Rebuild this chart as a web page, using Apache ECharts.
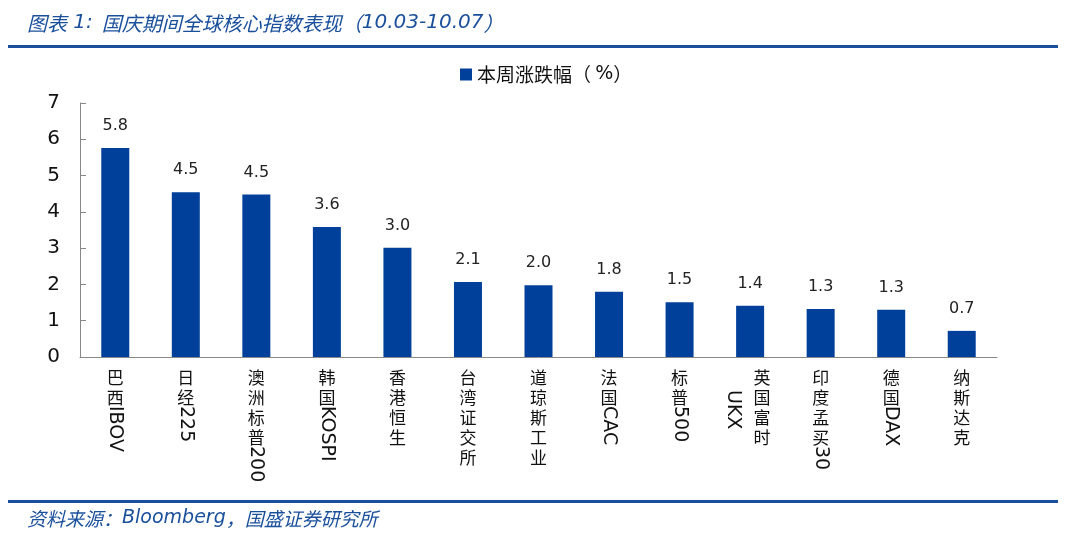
<!DOCTYPE html>
<html>
<head>
<meta charset="utf-8">
<script src="https://cdn.jsdelivr.net/npm/echarts@6/dist/echarts.min.js"></script>
<style>html,body{margin:0;padding:0;background:#fff;}#c{width:1080px;height:545px;}</style>
</head>
<body>
<div id="c"></div>
<script>
var categories = ['巴西IBOV','日经225','澳洲标普200','韩国KOSPI','香港恒生','台湾证交所','道琼斯工业','法国CAC','标普500','英国富时UKX','印度孟买30','德国DAX','纳斯达克'];
var cnParts = ['巴西','日经','澳洲标普','韩国','香港恒生','台湾证交所','道琼斯工业','法国','标普','英国富时','印度孟买','德国','纳斯达克'];
var latinParts = ['IBOV','225','200','KOSPI','','','','CAC','500','UKX','30','DAX',''];
var weeklyChange = [5.76, 4.54, 4.48, 3.58, 3.01, 2.07, 1.98, 1.80, 1.51, 1.41, 1.32, 1.30, 0.72];
var yTicks = [0, 1, 2, 3, 4, 5, 6, 7];

var blue = '#1a4f9c';
var barColor = '#00409a';
var chart = echarts.init(document.getElementById('c'));

function cnLabel(value) {
  var i = categories.indexOf(value);
  if (latinParts[i] === 'UKX') {
    return cnParts[i].split('').map(function (c) { return '{sh|' + c + '}'; }).join('\n');
  }
  return cnParts[i].split('').join('\n');
}
function latinLabel(value) {
  var i = categories.indexOf(value);
  var l = latinParts[i];
  if (!l) return '';
  if (l === 'UKX') return '{ukx|' + l + '}';
  return (cnParts[i].length >= 4 ? '{p4|' : '{p2|') + l + '}';
}

var cnTitle = { color: blue, fontSize: 20, fontStyle: 'italic', fontWeight: 'normal', fontFamily: 'Noto Sans CJK SC' };
var laTitle = { color: blue, fontSize: 20, fontStyle: 'italic', fontWeight: 'normal', fontFamily: 'DejaVu Sans' };

chart.setOption({
  animation: false,
  title: [{
    text: '{c|图表}{l| 1:}{c|  国庆期间全球核心指数表现（}{l|10.03-10.07}{c|）}',
    left: 22, top: 8,
    textStyle: { fontWeight: 'normal', rich: { c: cnTitle, l: laTitle } }
  }, {
    text: '{c|资料来源：}{l|Bloomberg}{c|，国盛证券研究所}',
    left: 22, top: 504,
    textStyle: { fontWeight: 'normal', rich: {
      c: { color: blue, fontSize: 19, fontStyle: 'italic', fontWeight: 'normal', fontFamily: 'Noto Sans CJK SC' },
      l: { color: blue, fontSize: 19, fontStyle: 'italic', fontWeight: 'normal', fontFamily: 'DejaVu Sans' }
    } }
  }],
  graphic: [
    { type: 'rect', shape: { x: 8, y: 45, width: 1050, height: 3 }, style: { fill: blue } },
    { type: 'rect', shape: { x: 8, y: 500, width: 1050, height: 3 }, style: { fill: blue } }
  ],
  legend: {
    top: 60, left: 455,
    itemWidth: 12, itemHeight: 12, itemGap: 6,
    icon: 'rect',
    textStyle: {
      fontSize: 19, color: '#111', fontFamily: 'Noto Sans CJK SC',
      rich: {
        c: { fontSize: 19, color: '#111', fontFamily: 'Noto Sans CJK SC' },
        l: { fontSize: 19, color: '#111', fontFamily: 'DejaVu Sans' }
      }
    },
    formatter: function () { return '{c|本周涨跌幅（ }{l|%}{c|）}'; },
    data: ['本周涨跌幅（%）']
  },
  grid: { left: 80, right: 83, top: 103, bottom: 188, containLabel: false },
  xAxis: [{
    type: 'category',
    position: 'bottom',
    data: categories,
    axisLine: { lineStyle: { color: '#888', width: 1 } },
    axisTick: { inside: true, length: 6, lineStyle: { color: '#888' } },
    axisLabel: {
      interval: 0, margin: 11,
      fontSize: 17, lineHeight: 20, color: '#111',
      fontFamily: 'Noto Sans CJK SC',
      formatter: cnLabel,
      rich: { sh: { fontSize: 17, lineHeight: 20, color: '#111', fontFamily: 'Noto Sans CJK SC', padding: [0, 0, 0, 24] } }
    }
  }, {
    type: 'category',
    position: 'bottom',
    data: categories,
    axisLine: { show: false },
    axisTick: { show: false },
    axisLabel: {
      interval: 0, margin: 11, rotate: -90,
      fontSize: 19, color: '#111', fontFamily: 'DejaVu Sans',
      formatter: latinLabel,
      rich: {
        p2: { fontSize: 19, color: '#111', fontFamily: 'DejaVu Sans', padding: [0, 0, 0, 38] },
        p4: { fontSize: 19, color: '#111', fontFamily: 'DejaVu Sans', padding: [0, 0, 0, 78] },
        ukx: { fontSize: 19, color: '#111', fontFamily: 'DejaVu Sans', padding: [34, 0, 0, 22] }
      }
    }
  }],
  yAxis: {
    type: 'value',
    min: yTicks[0], max: yTicks[yTicks.length - 1], interval: 1,
    splitLine: { show: false },
    axisLine: { show: true, lineStyle: { color: '#888', width: 1 } },
    axisTick: { show: true, inside: true, length: 6, lineStyle: { color: '#888' } },
    axisLabel: { fontSize: 20, color: '#111', margin: 20, fontFamily: 'DejaVu Sans' }
  },
  series: [{
    name: '本周涨跌幅（%）',
    type: 'bar',
    xAxisIndex: 0,
    data: weeklyChange,
    barWidth: 28,
    itemStyle: { color: barColor },
    label: {
      show: true, position: 'top', distance: 14,
      fontSize: 16, color: '#222', fontFamily: 'DejaVu Sans',
      formatter: function (p) { return p.value.toFixed(1); }
    }
  }]
});
</script>
</body>
</html>
